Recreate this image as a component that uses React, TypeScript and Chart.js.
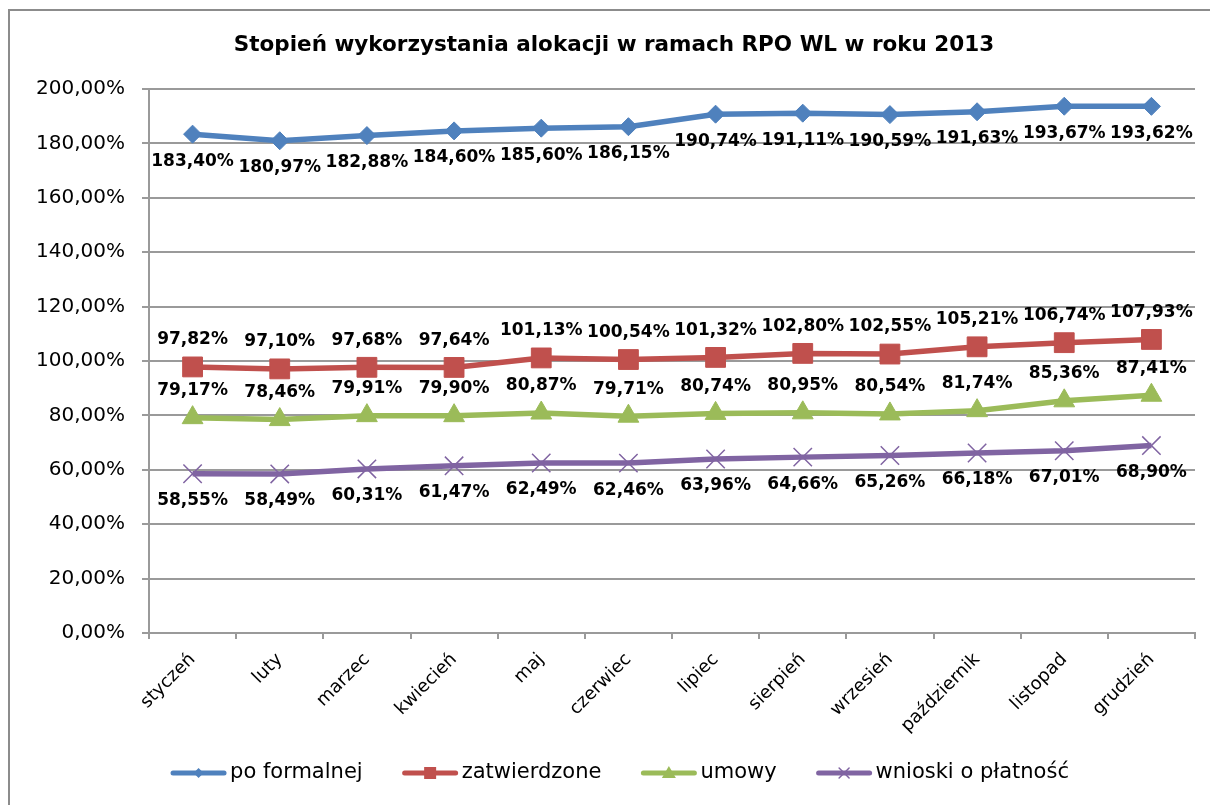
import React, { useEffect, useRef } from "react";
import { Chart, registerables } from "chart.js";

Chart.register(...registerables);

const chartTitle = "Stopień wykorzystania alokacji w ramach RPO WL w roku 2013";
const months = [
  "styczeń", "luty", "marzec", "kwiecień", "maj", "czerwiec",
  "lipiec", "sierpień", "wrzesień", "październik", "listopad", "grudzień",
];
const seriesNames = ["po formalnej", "zatwierdzone", "umowy", "wnioski o płatność"];
const poFormalnej = [183.40, 180.97, 182.88, 184.60, 185.60, 186.15, 190.74, 191.11, 190.59, 191.63, 193.67, 193.62];
const zatwierdzone = [97.82, 97.10, 97.68, 97.64, 101.13, 100.54, 101.32, 102.80, 102.55, 105.21, 106.74, 107.93];
const umowy = [79.17, 78.46, 79.91, 79.90, 80.87, 79.71, 80.74, 80.95, 80.54, 81.74, 85.36, 87.41];
const wnioski = [58.55, 58.49, 60.31, 61.47, 62.49, 62.46, 63.96, 64.66, 65.26, 66.18, 67.01, 68.90];
const yMin = 0;
const yMax = 200;
const yStep = 20;

const colors = ["#4F81BD", "#C0504D", "#9BBB59", "#8064A2"];
const pointStyles = ["rectRot", "rect", "triangle", "crossRot"];
const pointRadii = [9, 14, 12, 13];
const labelSide = [1, -1, -1, 1];

const GRID = "#9a9a9a";
const FONT = "'DejaVu Sans', Verdana, sans-serif";

const fmt = (v: number) => v.toFixed(2).replace(".", ",") + "%";

const framePlugin = {
  id: "frame",
  beforeDraw(chart: any) {
    const ctx = chart.ctx;
    ctx.save();
    ctx.fillStyle = "#ffffff";
    ctx.fillRect(0, 0, chart.width, chart.height);
    ctx.strokeStyle = "#8c8c8c";
    ctx.lineWidth = 2;
    ctx.beginPath();
    ctx.moveTo(9, chart.height + 2);
    ctx.lineTo(9, 10);
    ctx.lineTo(chart.width + 2, 10);
    ctx.stroke();
    ctx.fillStyle = "#000";
    ctx.font = `bold 21.5px ${FONT}`;
    ctx.textAlign = "center";
    ctx.textBaseline = "middle";
    ctx.fillText(chartTitle, 614, 45);
    ctx.restore();
  },
};

const labelsPlugin = {
  id: "valueLabels",
  afterDatasetsDraw(chart: any) {
    const ctx = chart.ctx;
    ctx.save();
    ctx.font = `bold 17px ${FONT}`;
    ctx.fillStyle = "#000";
    ctx.textAlign = "center";
    ctx.textBaseline = "middle";
    chart.data.datasets.forEach((ds: any, i: number) => {
      const meta = chart.getDatasetMeta(i);
      meta.data.forEach((pt: any, j: number) => {
        ctx.fillText(fmt(ds.data[j]), pt.x, pt.y + labelSide[i] * 27);
      });
    });
    ctx.restore();
  },
};

function drawMarker(ctx: CanvasRenderingContext2D, style: string, x: number, y: number, color: string) {
  ctx.fillStyle = color;
  ctx.strokeStyle = color;
  ctx.beginPath();
  if (style === "rectRot") {
    const r = 5;
    ctx.moveTo(x - r, y);
    ctx.lineTo(x, y - r);
    ctx.lineTo(x + r, y);
    ctx.lineTo(x, y + r);
    ctx.closePath();
    ctx.fill();
  } else if (style === "rect") {
    ctx.rect(x - 6, y - 6, 12, 12);
    ctx.fill();
  } else if (style === "triangle") {
    ctx.moveTo(x, y - 7);
    ctx.lineTo(x + 7, y + 5);
    ctx.lineTo(x - 7, y + 5);
    ctx.closePath();
    ctx.fill();
  } else {
    const r = 5;
    ctx.lineWidth = 1.5;
    ctx.moveTo(x - r, y - r);
    ctx.lineTo(x + r, y + r);
    ctx.moveTo(x + r, y - r);
    ctx.lineTo(x - r, y + r);
    ctx.stroke();
  }
}

const legendPlugin = {
  id: "customLegend",
  afterDraw(chart: any) {
    const ctx = chart.ctx;
    ctx.save();
    ctx.font = `21px ${FONT}`;
    const lineW = 55;
    const textGap = 4;
    const itemGap = 40;
    const widths = seriesNames.map((n) => ctx.measureText(n).width);
    const total = widths.reduce((a, w) => a + lineW + textGap + w, 0) + itemGap * (seriesNames.length - 1);
    let x = 620 - total / 2;
    const y = 773;
    seriesNames.forEach((name, i) => {
      ctx.strokeStyle = colors[i];
      ctx.lineWidth = 5;
      ctx.lineCap = "round";
      ctx.beginPath();
      ctx.moveTo(x + 2, y);
      ctx.lineTo(x + lineW - 2, y);
      ctx.stroke();
      drawMarker(ctx, pointStyles[i], x + lineW / 2, y, colors[i]);
      ctx.fillStyle = "#000";
      ctx.textAlign = "left";
      ctx.textBaseline = "middle";
      ctx.fillText(name, x + lineW + textGap, y);
      x += lineW + textGap + widths[i] + itemGap;
    });
    ctx.restore();
  },
};

export default function App() {
  const ref = useRef<HTMLCanvasElement | null>(null);

  useEffect(() => {
    if (!ref.current) return;
    const series = [poFormalnej, zatwierdzone, umowy, wnioski];
    const chart = new Chart(ref.current, {
      type: "line",
      data: {
        labels: months,
        datasets: series.map((d, i) => ({
          label: seriesNames[i],
          data: d,
          borderColor: colors[i],
          backgroundColor: colors[i],
          borderWidth: 5.5,
          pointStyle: pointStyles[i] as any,
          pointRadius: pointRadii[i],
          pointHoverRadius: pointRadii[i],
          pointBackgroundColor: colors[i],
          pointBorderColor: colors[i],
          pointBorderWidth: i === 3 ? 1.5 : 1,
          tension: 0,
          fill: false,
        })),
      },
      options: {
        responsive: false,
        animation: false,
        devicePixelRatio: 1,
        layout: { padding: { top: 89, left: 0, right: 15, bottom: 0 } },
        plugins: {
          legend: { display: false },
          title: { display: false },
          tooltip: { enabled: false },
        },
        scales: {
          x: {
            type: "category",
            offset: true,
            grid: {
              offset: true,
              drawOnChartArea: false,
              drawTicks: true,
              tickLength: 6,
              color: GRID,
              lineWidth: 2,
            },
            border: { display: true, color: GRID, width: 2 },
            ticks: {
              minRotation: 45,
              maxRotation: 45,
              autoSkip: false,
              padding: 10,
              color: "#000",
              font: { family: FONT, size: 18 },
            },
            afterFit(scale: any) {
              scale.height = 172;
              scale.paddingLeft = 0;
              scale.paddingRight = 0;
            },
          },
          y: {
            min: yMin,
            max: yMax,
            grid: {
              color: GRID,
              lineWidth: 2,
              drawTicks: true,
              tickLength: 7,
            },
            border: { display: true, color: GRID, width: 2 },
            ticks: {
              stepSize: yStep,
              padding: 17,
              color: "#000",
              font: { family: FONT, size: 20 },
              callback: (v: any) => fmt(Number(v)),
            },
            afterFit(scale: any) {
              scale.width = 149;
              scale.paddingTop = 0;
              scale.paddingBottom = 0;
            },
          },
        },
      },
      plugins: [framePlugin, labelsPlugin, legendPlugin],
    });
    return () => chart.destroy();
  }, []);

  return (
    <div style={{ position: "fixed", left: 0, top: 0, width: 1210, height: 805, background: "#fff" }}>
      <canvas ref={ref} width={1210} height={805} style={{ display: "block" }} />
    </div>
  );
}
